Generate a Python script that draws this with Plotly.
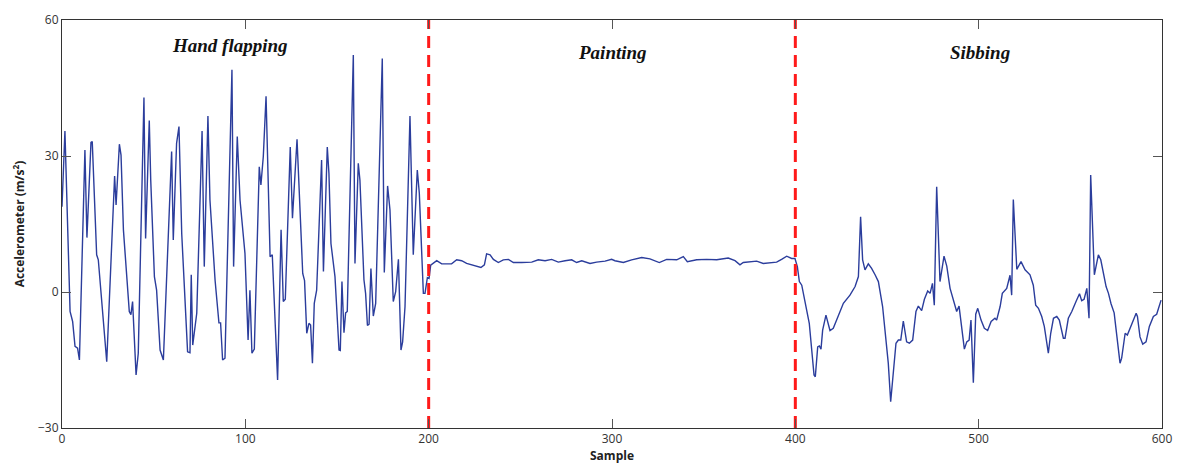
import plotly.graph_objects as go

# ---- data (sample index, acceleration m/s^2) ----
hand_x = [0, 1.6, 4.4, 5.8, 7.1, 8.5, 9.5, 12.5, 13.6, 15.8, 16.5, 18.9, 19.8, 22.5, 24.4,
          28.7, 29.5, 31.3, 32.2, 33.5, 34.9, 36.7, 37.6, 38.5, 40.4, 41.6, 44.7, 45.6,
          47.6, 48.4, 50.4, 51.6, 53.5, 55.3, 59.8, 60.7, 62.5, 63.8, 65.3, 66.5, 68.5,
          69.8, 70.5, 71.3, 73.5, 76.4, 77.6, 79.6, 80.7, 83.5, 85.6, 86.5, 87.6, 88.9,
          92.7, 93.6, 95.6, 97.1, 99.8, 101.5, 102.5, 103.6, 104.9, 107.6, 108.5, 109.8,
          111.3, 113.5, 114.7, 117.6, 119.5, 120.7, 121.8, 124.5, 125.7, 128.2, 131.3,
          132.3, 133.5, 134.7, 135.6, 136.6, 137.6, 138.9, 141.6, 142.6, 144.7, 145.6,
          146.7, 148.9, 151.1, 151.8, 152.7, 153.8, 154.7, 155.6, 158.9, 159.8, 161.6,
          162.5, 164.7, 165.6, 166.6, 167.5, 168.5, 169.8, 171.1, 174.7, 175.8, 177.6,
          178.9, 180.7, 182.0, 183.5, 184.9, 185.8, 187.1, 189.8, 191.6, 193.8, 194.9,
          197.1, 198.0, 199.3]
hand_y = [18.8, 35.5, -4.3, -6.5, -12.0, -12.4, -15.0, 31.3, 12.0, 33.0, 33.2, 8.2, 7.1, -5.4, -15.4,
          25.6, 19.2, 32.6, 30.2, 13.7, 5.6, -4.3, -5.0, -2.1, -18.3, -13.5, 42.9, 11.8,
          37.8, 24.7, 3.4, 0.4, -12.8, -15.0, 31.0, 11.5, 32.8, 36.5, 12.9, 4.1, -13.2,
          -13.4, 3.8, -11.7, -4.7, 35.5, 5.6, 38.8, 20.3, 2.6, -6.8, -6.8, -15.0, -14.6,
          49.0, 5.6, 34.3, 20.3, 8.5, -10.6, 0.4, -13.5, -12.6, 27.6, 23.6, 29.9,
          43.2, 7.8, 8.2, -19.4, 13.7, -2.1, -1.6, 32.0, 16.3, 33.7, 4.1,
          2.5, -9.1, -6.9, -7.3, -15.7, -2.5, 0.4, 29.1, 4.5, 32.0, 26.2,
          10.7, 3.4, -12.8, -12.9, 2.3, -9.0, -4.6, -4.3, 52.3, 6.3, 28.4,
          24.7, 2.7, -0.3, -7.4, -7.1, 5.2, -5.3, -2.5, 51.5, 4.3, 23.4,
          18.1, -2.1, 0.1, 7.2, -12.8, -11.0, -3.2, 38.8, 8.2, 26.9, 21.8,
          -0.3, -0.3, 3.2]

paint_x = [200.2, 201.1, 203.5, 204.4, 207.1, 212.5, 215.3, 218.0, 220.7, 225.3, 228.5,
           230.4, 231.6, 233.5, 235.3, 238.0, 240.7, 243.5, 246.2, 250.7, 256.2, 259.8,
           263.5, 267.1, 270.7, 274.4, 278.0, 280.7, 283.5, 288.0, 291.6, 296.2, 299.8,
           301.6, 306.2, 310.7, 316.2, 320.7, 325.8, 329.8, 335.3, 338.9, 341.1, 346.2,
           351.6, 357.1, 363.4, 367.1, 369.8, 371.6, 375.3, 378.9, 382.5, 386.2, 389.8,
           392.5, 395.3, 398.0, 399.8]
paint_y = [3.0, 5.9, 6.6, 6.9, 6.2, 6.2, 7.1, 6.9, 6.3, 5.7, 5.4,
           6.0, 8.4, 8.2, 7.2, 6.5, 7.1, 7.2, 6.5, 6.5, 6.6, 7.1,
           6.9, 7.2, 6.6, 6.9, 7.1, 6.5, 6.9, 6.3, 6.6, 6.8, 7.2,
           6.9, 6.5, 7.1, 7.6, 7.3, 6.5, 7.2, 7.1, 7.8, 6.7, 7.1,
           7.2, 7.1, 7.5, 6.9, 6.0, 6.5, 6.6, 6.8, 6.3, 6.5, 6.6,
           7.2, 7.9, 7.4, 7.4]

sib_x = [401.1, 402.2, 403.5, 405.3, 407.6, 410.2, 410.9, 412.2, 413.1, 414.0, 414.9,
         416.7, 418.9, 420.7, 423.5, 426.2, 429.8, 432.6, 434.4, 435.6, 436.7, 438.0,
         439.8, 441.6, 443.5, 445.3, 447.6, 449.8, 450.7, 452.0, 453.5, 454.9, 456.2,
         457.5, 458.9, 460.7, 462.2, 464.0, 465.8, 467.1, 468.9, 470.4, 472.2, 473.5,
         474.8, 475.8, 477.1, 478.9, 481.1, 482.6, 484.4, 486.8, 488.0, 489.3, 490.8,
         492.2, 493.5, 494.8, 495.8, 497.1, 498.4, 499.5, 501.3, 503.1, 504.9, 506.8,
         508.9, 509.8, 511.7, 512.9, 515.3, 517.1, 518.0, 518.9, 520.8, 523.1, 525.3,
         528.0, 529.8, 531.1, 532.6, 534.4, 535.8, 536.8, 538.0, 539.3, 540.8, 542.6,
         544.0, 546.2, 547.1, 548.9, 550.8, 553.1, 555.0, 556.2, 557.5, 559.0, 560.2,
         561.1, 562.0, 563.1, 564.0, 565.3, 566.6, 568.0, 569.5, 570.8, 572.2, 573.9,
         575.3, 577.1, 578.0, 579.9, 581.1, 583.5, 585.9, 586.6, 588.0, 589.5, 591.3,
         593.1, 595.3, 597.1, 598.6, 599.5]
sib_y = [5.6, 2.3, 1.5, -2.5, -6.9, -18.3, -18.7, -12.1, -11.9, -12.6, -8.4,
         -5.1, -8.5, -8.0, -5.4, -2.5, -0.7, 1.2, 3.4, 16.6, 7.1, 4.9,
         6.2, 5.2, 3.8, 2.3, -3.2, -12.8, -15.7, -24.2, -17.9, -11.3, -10.6,
         -10.6, -6.4, -11.0, -11.3, -10.6, -4.3, -3.1, -4.1, -1.6, 0.2, -0.3,
         1.9, -2.9, 23.2, 2.3, 7.9, 5.7, 0.8, -2.5, -4.3, -3.1, -7.6,
         -12.6, -11.0, -10.6, -6.2, -20.0, -4.9, -3.6, -6.2, -8.0, -8.5, -6.5,
         -5.8, -6.2, -3.2, -0.3, 0.8, 3.7, -0.7, 20.4, 5.0, 6.7, 4.9,
         3.8, 1.5, -2.9, -3.6, -5.4, -7.6, -9.9, -13.5, -9.1, -5.8, -5.4,
         -6.2, -10.2, -10.2, -5.8, -4.3, -2.1, -0.4, -1.9, -1.6, 0.8, -5.8,
         25.8, 14.4, 3.8, 5.6, 8.2, 7.1, 4.1, 1.2, -0.3, -2.6, -4.6,
         -9.9, -15.7, -14.6, -9.1, -9.5, -6.9, -4.7, -5.4, -9.9, -11.5, -11.0,
         -7.6, -5.4, -4.9, -3.2, -1.8]

boundaries = [200, 400]
activity_labels = ["Hand flapping", "Painting", "Sibbing"]
label_x = [91.6, 300, 500.7]
label_y = [54.3, 52.9, 52.9]

x_ticks = [0, 100, 200, 300, 400, 500, 600]
y_ticks = [-30, 0, 30, 60]

samples = hand_x + paint_x + sib_x
accel = hand_y + paint_y + sib_y

fig = go.Figure()
fig.add_trace(go.Scatter(x=samples, y=accel, mode="lines",
                         line=dict(color="#2b3d9c", width=1.4),
                         showlegend=False, hoverinfo="skip"))

for b in boundaries:
    fig.add_trace(go.Scatter(x=[b, b], y=[-30, 60], mode="lines",
                             line=dict(color="#ff1a1a", width=3, dash="12px,7px"),
                             showlegend=False, hoverinfo="skip"))

for t, lx, ly in zip(activity_labels, label_x, label_y):
    fig.add_annotation(x=lx, y=ly, text="<b><i>" + t + "</i></b>", showarrow=False,
                       font=dict(family="Liberation Serif", size=19, color="#111"))

axis_common = dict(showline=True, linecolor="#333", linewidth=1, mirror="ticks",
                   ticks="inside", ticklen=9, tickcolor="#555", tickwidth=1,
                   showgrid=False, zeroline=False, automargin=False,
                   tickfont=dict(family="Open Sans", size=12, color="#333"))

fig.update_xaxes(range=[0, 600], tickvals=x_ticks,
                 title=dict(text="<b>Sample</b>", standoff=2,
                            font=dict(family="Open Sans", size=12, color="#222")),
                 **axis_common)
fig.update_yaxes(range=[-30, 60], tickvals=y_ticks,
                 title=dict(text="<b>Accelerometer (m/s<sup>2</sup>)</b>", standoff=10,
                            font=dict(family="Open Sans", size=12, color="#222")),
                 **axis_common)

fig.update_layout(width=1178, height=466,
                  margin=dict(l=62, r=16, t=20, b=38),
                  plot_bgcolor="white", paper_bgcolor="white")

fig.write_html("out.html", config={"displayModeBar": False},
               post_script="document.body.style.margin='0';document.body.style.overflow='hidden';")
